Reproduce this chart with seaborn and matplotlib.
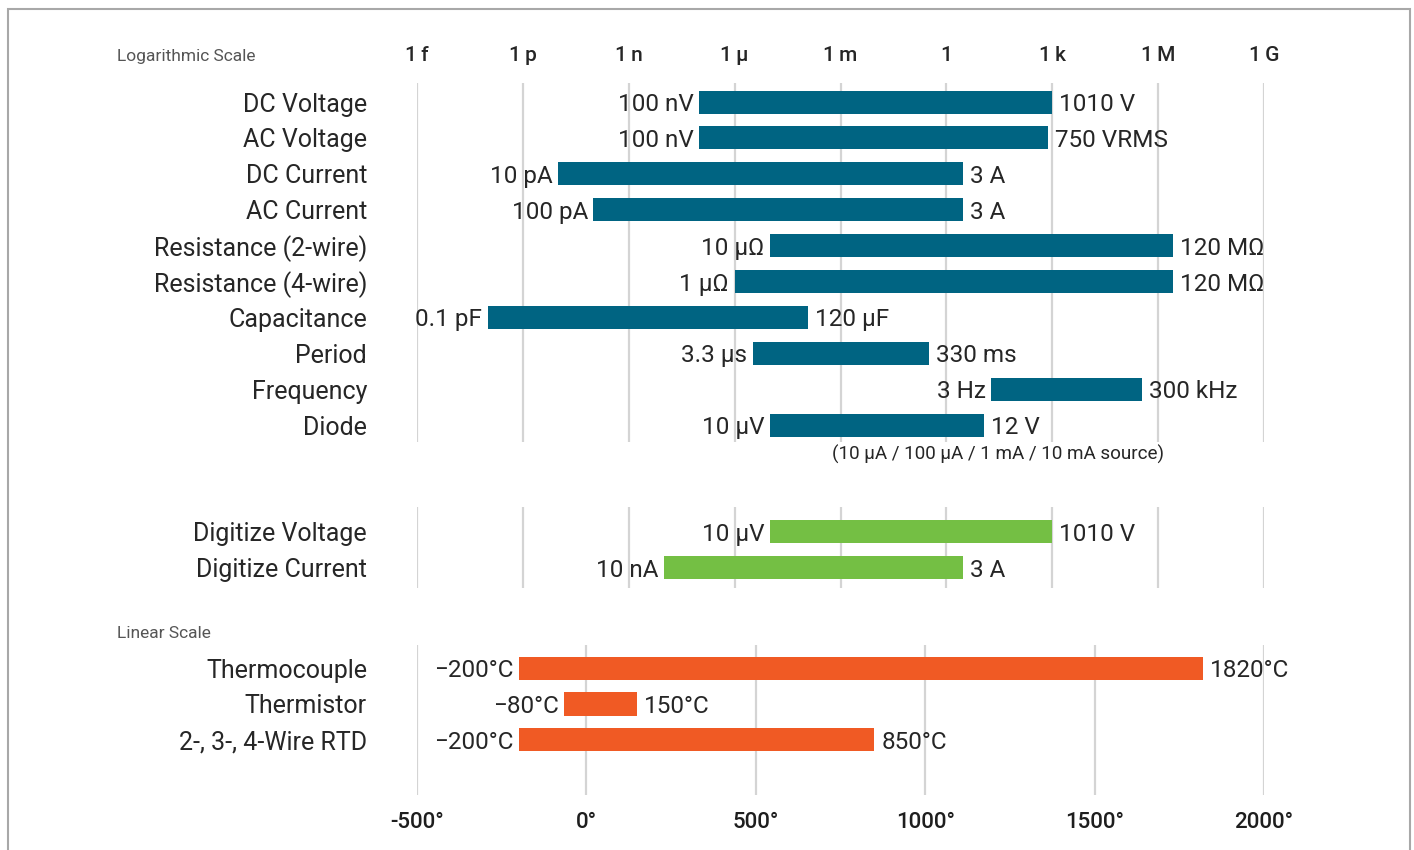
import numpy as np
import pandas as pd
import matplotlib
matplotlib.use("Agg")
import matplotlib.pyplot as plt
from matplotlib.patches import Rectangle
import seaborn as sns

# ---------------- data ----------------
log_categories = ["DC Voltage", "AC Voltage", "DC Current", "AC Current",
                  "Resistance (2-wire)", "Resistance (4-wire)", "Capacitance",
                  "Period", "Frequency", "Diode"]
log_start = [-7, -7, -11, -10, -5, -6, -13, -5.48, 1.27, -5]          # log10 units
log_end = [3.004, 2.875, 0.477, 0.477, 6.43, 6.43, -3.92, -0.48, 5.55, 1.08]
log_left_labels = ["100 nV", "100 nV", "10 pA", "100 pA", "10 µΩ", "1 µΩ",
                   "0.1 pF", "3.3 µs", "3 Hz", "10 µV"]
log_right_labels = ["1010 V", "750 VRMS", "3 A", "3 A", "120 MΩ", "120 MΩ",
                    "120 µF", "330 ms", "300 kHz", "12 V"]
diode_note = "(10 µA / 100 µA / 1 mA / 10 mA source)"

dig_categories = ["Digitize Voltage", "Digitize Current"]
dig_start = [-5, -8]
dig_end = [3.004, 0.477]
dig_left_labels = ["10 µV", "10 nA"]
dig_right_labels = ["1010 V", "3 A"]

lin_categories = ["Thermocouple", "Thermistor", "2-, 3-, 4-Wire RTD"]
lin_start = [-200, -65, -200]
lin_end = [1820, 150, 850]
lin_left_labels = ["\u2212200°C", "\u221280°C", "\u2212200°C"]
lin_right_labels = ["1820°C", "150°C", "850°C"]

log_ticks = [-15, -12, -9, -6, -3, 0, 3, 6, 9]
log_tick_labels = ["1\u2009f", "1\u2009p", "1\u2009n", "1\u2009µ", "1\u2009m", "1",
                   "1\u2009k", "1\u2009M", "1\u2009G"]
lin_ticks = [-500, 0, 500, 1000, 1500, 2000]
lin_tick_labels = ["-500°", "0°", "500°", "1000°", "1500°", "2000°"]

# ---------------- style ----------------
sns.set_theme(style="white")
plt.rcParams["font.family"] = ["Roboto", "DejaVu Sans"]

BLUE = "#006482"
GREEN = "#74BF44"
ORANGE = "#F05A24"
TEXT = "#262626"
GRID = "#d4d4d4"

W, H = 1414, 850
fig = plt.figure(figsize=(W / 100, H / 100), dpi=100)

X0, X1 = 417, 1264


def make_ax(y_top, y_bot):
    return fig.add_axes([X0 / W, 1 - y_bot / H, (X1 - X0) / W, (y_bot - y_top) / H])


ax_log = make_ax(83, 442)
ax_dig = make_ax(507, 588)
ax_lin = make_ax(645, 795)

LABEL_FS = 18
VALUE_FS = 17.5
BAR_H = 0.64


def draw_section(ax, cats, starts, ends, lefts, rights, color, xlim, ylim):
    df = pd.DataFrame({"cat": cats, "start": starts, "end": ends})
    y = np.arange(len(df))
    ax.barh(y, df["end"] - df["start"], left=df["start"], height=BAR_H,
            color=color, edgecolor="none", zorder=3)
    for yi, s, e, lt, rt in zip(y, df["start"], df["end"], lefts, rights):
        ax.annotate(lt, (s, yi), xytext=(-4, 0), textcoords="offset points",
                    ha="right", va="center_baseline", fontsize=VALUE_FS,
                    color=TEXT, zorder=4)
        ax.annotate(rt, (e, yi), xytext=(5, 0), textcoords="offset points",
                    ha="left", va="center_baseline", fontsize=VALUE_FS,
                    color=TEXT, zorder=4)
    ax.set_xlim(*xlim)
    ax.set_ylim(*ylim)
    ax.set_yticks(y)
    ax.set_yticklabels(cats, fontsize=LABEL_FS, color=TEXT, va="center_baseline")
    ax.tick_params(axis="y", length=0, pad=36)
    for sp in ax.spines.values():
        sp.set_visible(False)
    ax.grid(axis="x", color=GRID, linewidth=1.6, zorder=0)
    ax.grid(axis="y", visible=False)
    ax.set_facecolor("none")


LOG_XLIM = (-15, 9)

# top log section
draw_section(ax_log, log_categories, log_start, log_end, log_left_labels,
             log_right_labels, BLUE, LOG_XLIM, (9.47, -0.53))
ax_log.set_xticks(log_ticks)
ax_log.xaxis.tick_top()
ax_log.set_xticklabels(log_tick_labels, fontsize=15, color=TEXT, fontweight="medium")
ax_log.tick_params(axis="x", length=0, pad=13)
ax_log.text(-3.23, 9.75, diode_note, ha="left", va="center_baseline",
            fontsize=13.6, color=TEXT)

# digitize section
draw_section(ax_dig, dig_categories, dig_start, dig_end, dig_left_labels,
             dig_right_labels, GREEN, LOG_XLIM, (1.56, -0.69))
ax_dig.set_xticks(log_ticks)
ax_dig.set_xticklabels([])
ax_dig.tick_params(axis="x", length=0)

# linear section
draw_section(ax_lin, lin_categories, lin_start, lin_end, lin_left_labels,
             lin_right_labels, ORANGE, (-500, 2000), (3.53, -0.64))
ax_lin.set_xticks(lin_ticks)
ax_lin.set_xticklabels(lin_tick_labels, fontsize=16, color="#1e1e1e",
                       fontweight="medium")
ax_lin.tick_params(axis="x", length=0, pad=12)

# section titles
fig.text(117 / W, 1 - 56 / H, "Logarithmic Scale", ha="left", va="center",
         fontsize=12.5, color="#555555")
fig.text(117 / W, 1 - 633 / H, "Linear Scale", ha="left", va="center",
         fontsize=12.5, color="#555555")

# outer frame
fig.patches.append(Rectangle((8 / W, -0.05), (1410 - 8) / W, 1.05 - 9 / H,
                             transform=fig.transFigure, fill=False,
                             edgecolor="#a8a8a8", linewidth=1.5))

fig.savefig("out.png", dpi=100)
